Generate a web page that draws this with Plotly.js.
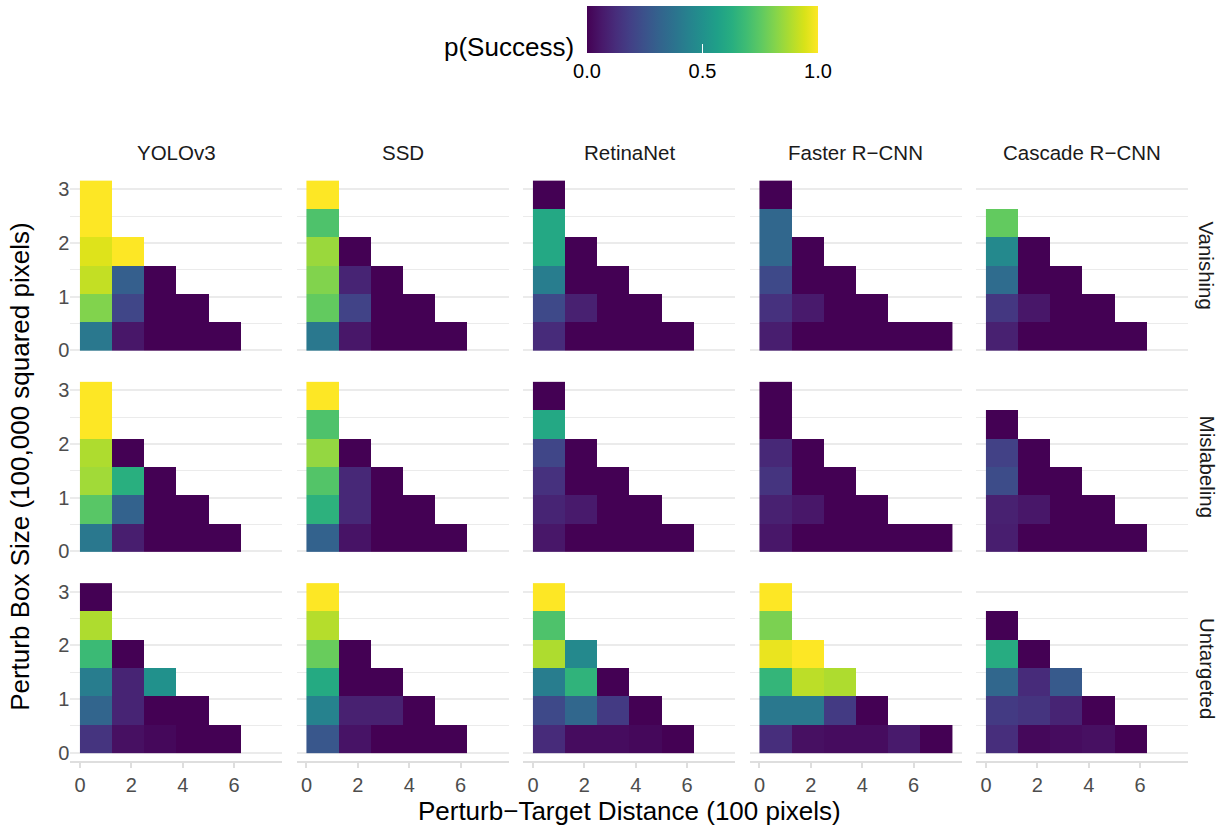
<!DOCTYPE html>
<html><head><meta charset="utf-8">
<script src="https://cdn.plot.ly/plotly-3.0.1.min.js"></script>
<style>html,body{margin:0;padding:0;background:#fff;}#chart{width:1223px;height:828px;}</style>
</head><body><div id="chart"></div>
<script>
// ---------- data ----------
const models = ['YOLOv3', 'SSD', 'RetinaNet', 'Faster R\u2212CNN', 'Cascade R\u2212CNN'];
const attacks = ['Vanishing', 'Mislabeling', 'Untargeted'];
// tile centres: perturb-target distance (100 px) and perturb box size (100,000 px^2)
const distances = [0.625, 1.875, 3.125, 4.375, 5.625, 6.875];
const boxSizes = [0.263, 0.790, 1.317, 1.843, 2.370, 2.897];
const xTickVals = [0, 2, 4, 6];
const yTickVals = [0, 1, 2, 3];
const cbTickVals = [0, 0.5, 1];
const cbTickText = ['0.0', '0.5', '1.0'];
const _ = null;

// p(Success); rows are box sizes (bottom to top), columns are distances
const vanishing_YOLOv3 = [
  [0.40, 0.06, 0, 0, 0, _],
  [0.81, 0.21, 0, 0, _, _],
  [0.91, 0.30, 0, _, _, _],
  [0.95, 1.00, _, _, _, _],
  [1.00, _, _, _, _, _],
  [1.00, _, _, _, _, _]];
const vanishing_SSD = [
  [0.40, 0.06, 0, 0, 0, _],
  [0.76, 0.20, 0, 0, _, _],
  [0.81, 0.10, 0, _, _, _],
  [0.85, 0, _, _, _, _],
  [0.72, _, _, _, _, _],
  [1.00, _, _, _, _, _]];
const vanishing_RetinaNet = [
  [0.12, 0, 0, 0, 0, _],
  [0.22, 0.09, 0, 0, _, _],
  [0.42, 0, 0, _, _, _],
  [0.60, 0, _, _, _, _],
  [0.60, _, _, _, _, _],
  [0, _, _, _, _, _]];
const vanishing_Faster = [
  [0.08, 0, 0, 0, 0, 0],
  [0.14, 0.07, 0, 0, _, _],
  [0.22, 0, 0, _, _, _],
  [0.33, 0, _, _, _, _],
  [0.33, _, _, _, _, _],
  [0, _, _, _, _, _]];
const vanishing_Cascade = [
  [0.09, 0, 0, 0, 0, _],
  [0.16, 0.06, 0, 0, _, _],
  [0.35, 0, 0, _, _, _],
  [0.47, 0, _, _, _, _],
  [0.76, _, _, _, _, _],
  [_, _, _, _, _, _]];

const mislabeling_YOLOv3 = [
  [0.40, 0.08, 0, 0, 0, _],
  [0.74, 0.31, 0, 0, _, _],
  [0.86, 0.63, 0, _, _, _],
  [0.88, 0, _, _, _, _],
  [1.00, _, _, _, _, _],
  [1.00, _, _, _, _, _]];
const mislabeling_SSD = [
  [0.31, 0.05, 0, 0, 0, _],
  [0.64, 0.11, 0, 0, _, _],
  [0.73, 0.11, 0, _, _, _],
  [0.84, 0, _, _, _, _],
  [0.72, _, _, _, _, _],
  [1.00, _, _, _, _, _]];
const mislabeling_RetinaNet = [
  [0.06, 0, 0, 0, 0, _],
  [0.10, 0.07, 0, 0, _, _],
  [0.14, 0, 0, _, _, _],
  [0.21, 0, _, _, _, _],
  [0.60, _, _, _, _, _],
  [0, _, _, _, _, _]];
const mislabeling_Faster = [
  [0.06, 0, 0, 0, 0, 0],
  [0.09, 0.06, 0, 0, _, _],
  [0.15, 0, 0, _, _, _],
  [0.11, 0, _, _, _, _],
  [0, _, _, _, _, _],
  [0, _, _, _, _, _]];
const mislabeling_Cascade = [
  [0.08, 0, 0, 0, 0, _],
  [0.09, 0.06, 0, 0, _, _],
  [0.23, 0, 0, _, _, _],
  [0.19, 0, _, _, _, _],
  [0, _, _, _, _, _],
  [_, _, _, _, _, _]];

const untargeted_YOLOv3 = [
  [0.15, 0.04, 0.02, 0, 0, _],
  [0.32, 0.10, 0, 0, _, _],
  [0.42, 0.10, 0.50, _, _, _],
  [0.68, 0, _, _, _, _],
  [0.88, _, _, _, _, _],
  [0, _, _, _, _, _]];
const untargeted_SSD = [
  [0.27, 0.05, 0, 0, 0, _],
  [0.44, 0.09, 0.09, 0, _, _],
  [0.61, 0, 0, _, _, _],
  [0.77, 0, _, _, _, _],
  [0.89, _, _, _, _, _],
  [1.00, _, _, _, _, _]];
const untargeted_RetinaNet = [
  [0.12, 0.03, 0.03, 0.02, 0, _],
  [0.22, 0.33, 0.17, 0, _, _],
  [0.42, 0.65, 0, _, _, _],
  [0.88, 0.47, _, _, _, _],
  [0.72, _, _, _, _, _],
  [1.00, _, _, _, _, _]];
const untargeted_Faster = [
  [0.13, 0.04, 0.03, 0.03, 0.07, 0],
  [0.40, 0.40, 0.17, 0, _, _],
  [0.66, 0.90, 0.88, _, _, _],
  [0.97, 1.00, _, _, _, _],
  [0.80, _, _, _, _, _],
  [1.00, _, _, _, _, _]];
const untargeted_Cascade = [
  [0.13, 0.02, 0.03, 0.04, 0, _],
  [0.17, 0.15, 0.10, 0, _, _],
  [0.33, 0.12, 0.28, _, _, _],
  [0.62, 0, _, _, _, _],
  [0, _, _, _, _, _],
  [_, _, _, _, _, _]];

const panelZ = [
  [vanishing_YOLOv3, vanishing_SSD, vanishing_RetinaNet, vanishing_Faster, vanishing_Cascade],
  [mislabeling_YOLOv3, mislabeling_SSD, mislabeling_RetinaNet, mislabeling_Faster, mislabeling_Cascade],
  [untargeted_YOLOv3, untargeted_SSD, untargeted_RetinaNet, untargeted_Faster, untargeted_Cascade]];

// ---------- layout ----------
const W = 1223, H = 828;
const FONT = 'Liberation Sans, Arial, Helvetica, sans-serif';
const colLeft = [70.3, 296.8, 523.3, 749.8, 976.3], colW = 212;
const rowTop = [172.2, 373.4, 574.7], rowH = 186.4;
const px = v => v / W;
const py = v => 1 - v / H;
const GRID = '#ebebeb';

const traces = [];
const layout = {
  width: W, height: H,
  margin: {l: 0, r: 0, t: 0, b: 0},
  paper_bgcolor: '#fff', plot_bgcolor: 'rgba(0,0,0,0)',
  font: {family: FONT, color: '#1a1a1a'},
  showlegend: false,
  coloraxis: {
    colorscale: 'Viridis', cmin: 0, cmax: 1,
    colorbar: {
      orientation: 'h',
      x: px(587), xanchor: 'left', y: py(6), yanchor: 'top',
      len: 231, lenmode: 'pixels', thickness: 46.5, thicknessmode: 'pixels',
      xpad: 0, ypad: 0, outlinewidth: 0,
      tickmode: 'array', tickvals: cbTickVals, ticktext: cbTickText,
      ticks: 'inside', ticklen: 9, tickcolor: '#ffffff', tickwidth: 1,
      tickfont: {family: FONT, size: 20, color: '#000'}
    }
  },
  annotations: [],
};

for (let r = 0; r < 3; r++) {
  for (let c = 0; c < 5; c++) {
    const n = r * 5 + c + 1;
    const xa = 'xaxis' + (n === 1 ? '' : n), ya = 'yaxis' + (n === 1 ? '' : n);
    const xr = 'x' + (n === 1 ? '' : n), yr = 'y' + (n === 1 ? '' : n);
    traces.push({
      type: 'heatmap', x: distances, y: boxSizes, z: panelZ[r][c],
      coloraxis: 'coloraxis', xaxis: xr, yaxis: yr, hoverongaps: false
    });
    const bottom = r === 2;
    layout[xa] = {
      domain: [px(colLeft[c]), px(colLeft[c] + colW)], anchor: yr,
      range: [-0.375, 7.875], showgrid: false, zeroline: false, fixedrange: true,
      tickmode: 'array', tickvals: xTickVals,
      showticklabels: bottom, showline: bottom, linecolor: '#dedede', linewidth: 2,
      ticks: bottom ? 'outside' : '', ticklen: 5, tickwidth: 2, tickcolor: '#dedede',
      tickfont: {family: FONT, size: 20, color: '#4d4d4d'}
    };
    layout[ya] = {
      domain: [py(rowTop[r] + rowH), py(rowTop[r])], anchor: xr,
      range: [-0.158, 3.318], zeroline: false, fixedrange: true,
      tickmode: 'array', tickvals: yTickVals,
      showgrid: true, gridcolor: GRID, gridwidth: 2,
      minor: {tickmode: 'array', tickvals: [0.5, 1.5, 2.5], showgrid: true, gridcolor: GRID, gridwidth: 1, ticks: ''},
      showticklabels: c === 0, ticks: '', showline: false,
      tickfont: {family: FONT, size: 20, color: '#4d4d4d'}
    };
    if (r === 2 && c === 2) {
      layout[xa].title = {text: 'Perturb\u2212Target Distance (100 pixels)', font: {family: FONT, size: 26, color: '#000'}, standoff: 6};
    }
    if (r === 1 && c === 0) {
      layout[ya].title = {text: 'Perturb Box Size (100,000 squared pixels)', font: {family: FONT, size: 26, color: '#000'}, standoff: 21};
    }
  }
}

// strip labels (columns: model, rows: attack)
models.forEach((m, c) => {
  layout.annotations.push({
    text: m, xref: 'paper', yref: 'paper', x: px(colLeft[c] + colW / 2), y: py(152),
    xanchor: 'center', yanchor: 'middle', showarrow: false,
    font: {family: FONT, size: 20.5, color: '#1a1a1a'}
  });
});
attacks.forEach((a, r) => {
  layout.annotations.push({
    text: a, xref: 'paper', yref: 'paper', x: px(1207), y: py(rowTop[r] + rowH / 2),
    xanchor: 'center', yanchor: 'middle', textangle: 90, showarrow: false,
    font: {family: FONT, size: 20.5, color: '#1a1a1a'}
  });
});
// legend title
layout.annotations.push({
  text: 'p(Success)', xref: 'paper', yref: 'paper', x: px(576), y: py(47),
  xanchor: 'right', yanchor: 'middle', showarrow: false,
  font: {family: FONT, size: 26, color: '#000'}
});

Plotly.newPlot('chart', traces, layout, {displayModeBar: false, staticPlot: true});
</script>
</body></html>
